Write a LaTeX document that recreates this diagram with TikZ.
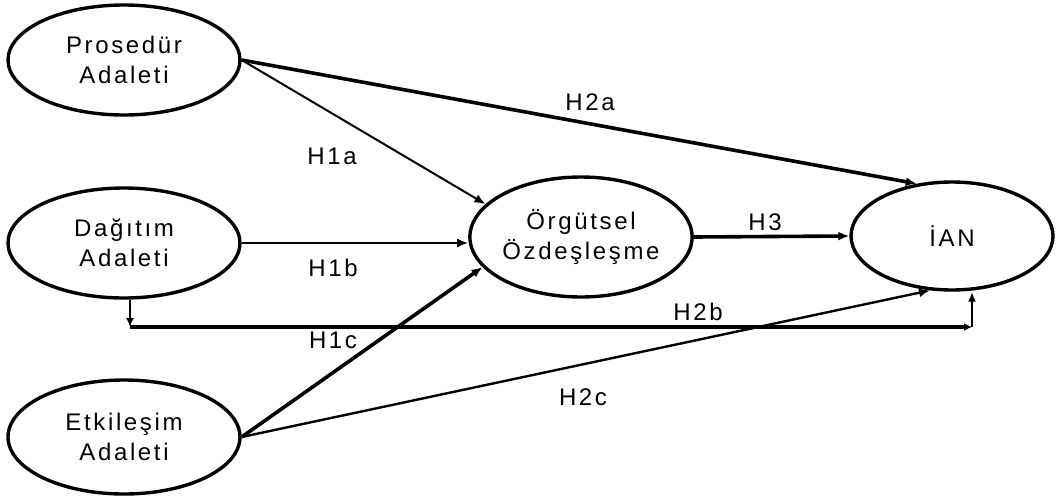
\documentclass[tikz,border=0pt]{standalone}
\usepackage{fontspec}
\setmainfont{Liberation Sans}[LetterSpace=11]
\usetikzlibrary{shapes.geometric,arrows.meta}
\tikzset{
  construct/.style={ellipse,draw=black,line width=3.4pt,inner sep=0pt,align=center,
    font=\fontsize{24}{30}\selectfont},
  lab/.style={font=\fontsize{24}{28}\selectfont,inner sep=0pt},
  thinarr/.style={line width=2pt,-{Latex[length=11pt,width=9pt]}},
  thickarr/.style={line width=3.6pt,-{Latex[length=11pt,width=9pt]}},
  thickline/.style={line width=3.6pt},
}
\begin{document}
\begin{tikzpicture}[x=1pt,y=-1pt]
\useasboundingbox (0,0) rectangle (1057,498);
\node[construct,minimum width=232pt,minimum height=110pt] (pro) at (124,60) {Prosedür\\Adaleti};
\node[construct,minimum width=232pt,minimum height=110pt] (dag) at (124,243) {Dağıtım\\Adaleti};
\node[construct,minimum width=232pt,minimum height=114pt] (etk) at (124,437) {Etkileşim\\Adaleti};
\node[construct,minimum width=214pt,minimum height=120pt] (org) at (581,237) {Örgütsel\\Özdeşleşme};
\node[construct,minimum width=202pt,minimum height=108pt] (ian) at (952,236) {İAN};
\coordinate (c1) at (130,327);
\coordinate (c2) at (972,327);
% H2a
\draw[thickarr] (pro.east) -- (ian.124);
% H1a
\draw[thinarr] (pro.east) -- (org.161);
% H1b
\draw[thinarr] (dag.east) -- (dag.east -| org.west);
% H3
\draw[thickarr] (org.east) -- (ian.west);
% H2b
\draw[line width=2pt,-{Latex[length=9pt,width=8pt]}] (dag.south -| c1) -- (c1);
\draw[thickline,-{Latex[length=8pt,width=8pt]}] (c1) -- (c2);
\draw[line width=2pt,-{Latex[length=10pt,width=8pt]}] (c2) -- (c2 |- ian.south);
% H1c
\draw[thickarr] (etk.east) -- (org.197);
% H2c
\draw[line width=2.4pt,-{Latex[length=11pt,width=9pt]}] (etk.east) -- (ian.-112);
% labels
\node[lab] (l2a) at (590,102) {H2a};
\node[lab] (l1a) at (332,156) {H1a};
\node[lab] (l1b) at (333,268) {H1b};
\node[lab] (l1c) at (333,340) {H1c};
\node[lab] (l2b) at (698,312) {H2b};
\node[lab] (l2c) at (583,397) {H2c};
\node[lab] (l3) at (765,222) {H3};
\end{tikzpicture}
\end{document}
